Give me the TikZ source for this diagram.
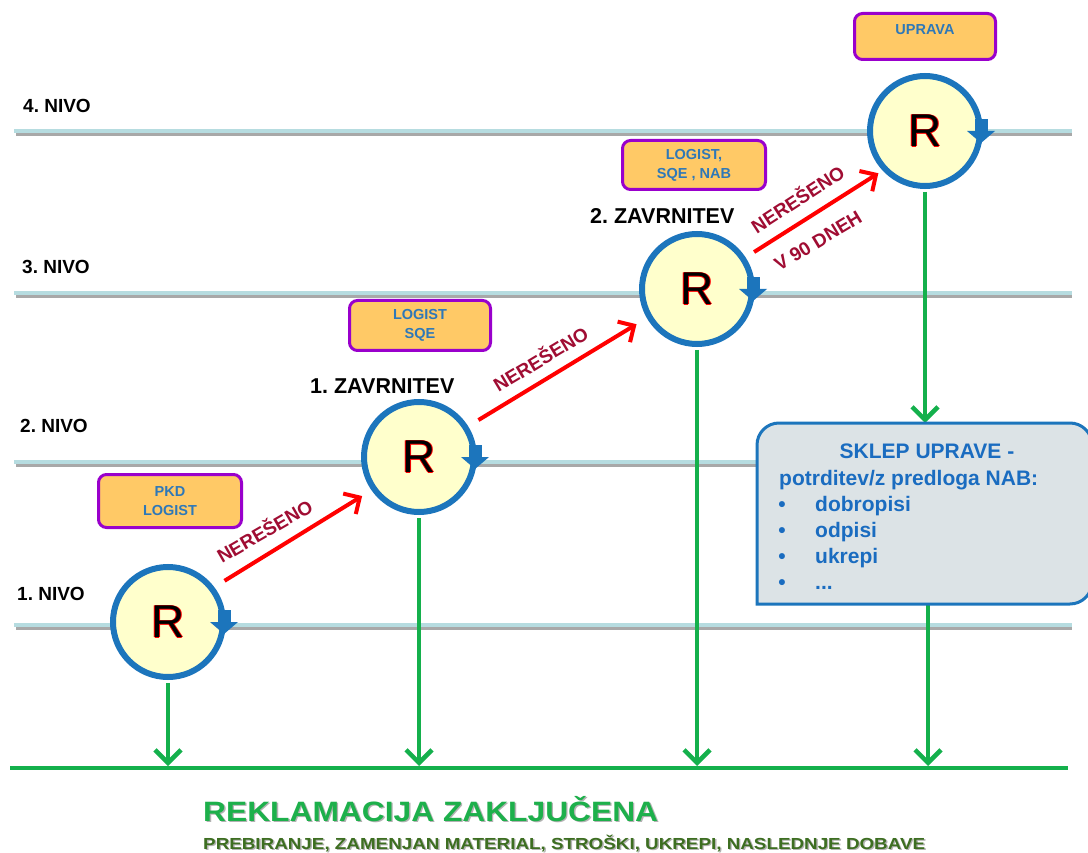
\documentclass[tikz,border=0pt]{standalone}
\usepackage{fontspec}
\setmainfont{Liberation Sans}
\usetikzlibrary{arrows.meta}
\frenchspacing
\definecolor{lvlC}{HTML}{B6DCE0}
\definecolor{lvlshC}{HTML}{A8A8A8}
\definecolor{blueC}{HTML}{1C75BC}
\definecolor{yelC}{HTML}{FFFFCC}
\definecolor{orC}{HTML}{FFC966}
\definecolor{purC}{HTML}{9900CC}
\definecolor{boxC}{HTML}{2E78B8}
\definecolor{lblC}{HTML}{A00D33}
\definecolor{grnC}{HTML}{14B04C}
\definecolor{callF}{HTML}{DCE3E6}
\definecolor{callT}{HTML}{1A6CC0}
\definecolor{titA}{HTML}{1DB04B}
\definecolor{titB}{HTML}{3D6E21}
\newcommand\Rglyph{\leavevmode\rlap{\hspace{-0.8pt}\textcolor{red}{R}}\rlap{\hspace{0.8pt}\textcolor{red}{R}}\rlap{\raisebox{0.8pt}{\textcolor{red}{R}}}\rlap{\raisebox{-0.8pt}{\textcolor{red}{R}}}R}
\newcommand\shadowtext[2]{\rlap{\hspace{1.2pt}\raisebox{-1.2pt}{\textcolor{black!30}{#2}}}\textcolor{#1}{#2}}
\begin{document}
\begin{tikzpicture}[x=1pt,y=-1pt,
  lvl/.style={draw=lvlC,line width=4pt},
  lvlsh/.style={draw=lvlshC,line width=3pt},
  nivo/.style={anchor=base west,font=\fontsize{19}{22}\selectfont\bfseries,inner sep=0},
  rc/.style={circle,draw=blueC,line width=6pt,fill=yelC,minimum size=110pt,inner sep=0,font=\fontsize{46}{46}\selectfont},
  obox/.style={draw=purC,line width=3pt,fill=orC,rounded corners=8pt,text=boxC,font=\fontsize{14.5}{19}\selectfont\bfseries,align=center,inner sep=0},
  zav/.style={anchor=base west,font=\fontsize{21.5}{24}\selectfont\bfseries,inner sep=0},
  redarr/.style={draw=red,line width=4pt,-{Straight Barb[length=12pt,width=24pt]}},
  lbl/.style={text=lblC,font=\fontsize{19}{22}\selectfont\bfseries,inner sep=0},
  garr/.style={draw=grnC,line width=4.5pt,-{Straight Barb[length=13pt,width=26pt]}},
  ctxt/.style={text=callT,font=\fontsize{21}{24}\selectfont\bfseries,inner sep=0},
  barrow/.pic={\fill[blueC] (42,0) -- (70,0) -- (56,12) -- cycle; \fill[blueC] (50,-12) rectangle (63,1);}
  ]
\useasboundingbox (0,0) rectangle (1088,853);
\clip (0,0) rectangle (1088,853);
\fill[white] (0,0) rectangle (1088,853);
% level lines
\foreach \yy in {131,293,462,625}{
  \draw[lvlsh] (16,\yy+3.5) -- (1072,\yy+3.5);
  \draw[lvl] (14,\yy) -- (1072,\yy);
}
\node[nivo] (n4) at (23,113) {4. NIVO};
\node[nivo] (n3) at (22,274) {3. NIVO};
\node[nivo] (n2) at (20,432) {2. NIVO};
\node[nivo] (n1) at (17,600) {1. NIVO};
% green base line
\coordinate (gl) at (10,768);
\coordinate (gr) at (1068,768);
\coordinate (gt) at (0,766);
\draw[grnC,line width=4pt] (gl) -- (gr);
% circles
\node[rc] (c1) at (168,622) {\Rglyph};
\node[rc] (c2) at (419,457) {\Rglyph};
\node[rc] (c3) at (697,289) {\Rglyph};
\node[rc] (c4) at (925,131) {\Rglyph};
% callout
\coordinate (ct) at (925,423);
\coordinate (cb) at (928,604);
\draw[garr] ([yshift=-3pt]c4.south) -- (ct);
\draw[garr] (cb) -- (cb |- gt);
\draw[draw=blueC,line width=3pt,fill=callF] (757,604) [rounded corners=22pt] -- (757,423) -- (1092,423) -- (1092,604) [sharp corners] -- cycle;
\node[ctxt,anchor=base] (k1) at (927,458) {SKLEP UPRAVE -};
\node[ctxt,anchor=base west] (k2) at (779,485) {potrditev/z predloga NAB:};
\node[ctxt,anchor=base] (kb1) at (782,511) {•};
\node[ctxt,anchor=base] (kb2) at (782,537) {•};
\node[ctxt,anchor=base] (kb3) at (782,563) {•};
\node[ctxt,anchor=base] (kb4) at (782,589) {•};
\node[ctxt,anchor=base west] (ki1) at (815,511) {dobropisi};
\node[ctxt,anchor=base west] (ki2) at (815,537) {odpisi};
\node[ctxt,anchor=base west] (ki3) at (815,563) {ukrepi};
\node[ctxt,anchor=base west] (ki4) at (815,589) {...};
% green drops
\draw[garr] ([yshift=-3pt]c1.south) -- (c1.south |- gt);
\draw[garr] ([yshift=-3pt]c2.south) -- (c2.south |- gt);
\draw[garr] ([yshift=-3pt]c3.south) -- (c3.south |- gt);
\pic at (c1.center) {barrow};
\pic at (c2.center) {barrow};
\pic at (c3.center) {barrow};
\pic at (c4.center) {barrow};
% orange boxes
\node[obox,minimum width=143pt,minimum height=53pt] (b1) at (170,501) {PKD\\LOGIST};
\node[obox,minimum width=141pt,minimum height=50pt] (b2) at (420,325.5) {LOGIST\\SQE};
\node[obox,minimum width=143pt,minimum height=49pt] (b3) at (694,165) {LOGIST,\\SQE , NAB};
\node[obox,minimum width=141pt,minimum height=46pt,text depth=14pt] (b4) at (925,36.5) {UPRAVA};
% zavrnitev labels
\node[zav] (z1) at (310,393) {1. ZAVRNITEV};
\node[zav] (z2) at (590,224) {2. ZAVRNITEV};
% red arrows
\draw[redarr,shorten <=12pt,shorten >=11pt] (c1.37) -- (c2.215);
\draw[redarr,shorten <=12pt,shorten >=12pt] (c2.32) -- (c3.210);
\draw[redarr,shorten <=10pt,shorten >=5pt] (c3.33) -- (c4.223);
\node[lbl,rotate=30] (l1) at (264,530) {NEREŠENO};
\node[lbl,rotate=31] (l2) at (540,358) {NEREŠENO};
\node[lbl,rotate=33] (l3) at (797,198) {NEREŠENO};
\node[lbl,rotate=31] (l4) at (818,241) {V 90 DNEH};
% title
\node[anchor=base west,inner sep=0] (t1) at (203,821) {\resizebox{455pt}{\height}{\fontsize{28}{30}\selectfont\bfseries\shadowtext{titA}{REKLAMACIJA ZAKLJUČENA}}};
\node[anchor=base west,inner sep=0] (t2) at (203,849) {\resizebox{722pt}{\height}{\fontsize{16}{18}\selectfont\bfseries\shadowtext{titB}{PREBIRANJE, ZAMENJAN MATERIAL,  STROŠKI, UKREPI, NASLEDNJE DOBAVE}}};
\end{tikzpicture}
\end{document}
